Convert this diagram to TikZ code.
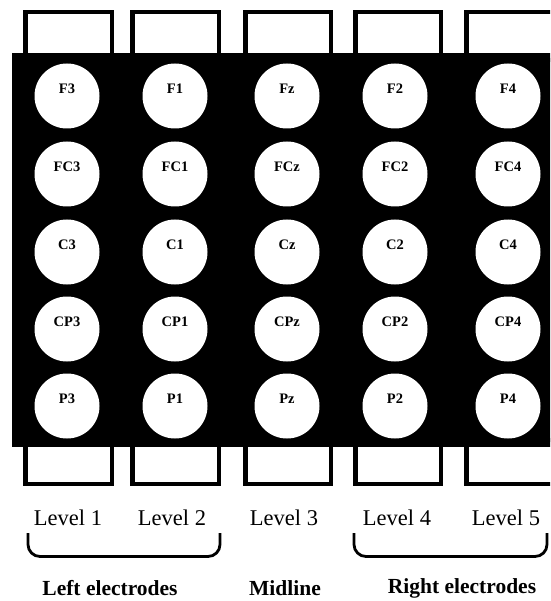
\documentclass[tikz,border=0pt]{standalone}
\usepackage{fontspec}
\setmainfont{Liberation Serif}
\begin{document}
\begin{tikzpicture}[x=1pt,y=-1pt,
  slot/.style={draw=black,line width=4.5pt,fill=white},
  elec/.style={circle,fill=white,minimum size=65pt,inner sep=0pt},
  elab/.style={font=\fontsize{14.5}{14.5}\selectfont\bfseries,inner sep=0pt},
  lvl/.style={font=\fontsize{22.5}{22.5}\selectfont,inner sep=0pt},
  grp/.style={font=\fontsize{21.5}{21.5}\selectfont\bfseries,inner sep=0pt},
  brace/.style={draw=black,line width=2.8pt,rounded corners=12pt}]
\useasboundingbox (0,0) rectangle (550,601);
\begin{scope}
\clip (0,0) rectangle (550,601);
% slots
\foreach \a/\b in {23/114,130/221,243/333,353/443,464/560}{
  \draw[slot] (\a+2.25,12.25) rectangle (\b-2.25,60);
  \draw[slot] (\a+2.25,440) rectangle (\b-2.25,483.75);
}
% black board
\fill[black] (12,53) rectangle (552,447);
\end{scope}
% electrodes
\foreach \lab [count=\i] in {F3,F1,Fz,F2,F4}{
  \pgfmathsetmacro{\xx}{{67,175,287,395,508}[\i-1]}
  \node[elec] (r1c\i) at (\xx,96) {};
  \node[elab] at ([yshift=7pt]r1c\i.center) {\lab};
}
\foreach \lab [count=\i] in {FC3,FC1,FCz,FC2,FC4}{
  \pgfmathsetmacro{\xx}{{67,175,287,395,508}[\i-1]}
  \node[elec] (r2c\i) at (\xx,174) {};
  \node[elab] at ([yshift=7pt]r2c\i.center) {\lab};
}
\foreach \lab [count=\i] in {C3,C1,Cz,C2,C4}{
  \pgfmathsetmacro{\xx}{{67,175,287,395,508}[\i-1]}
  \node[elec] (r3c\i) at (\xx,252) {};
  \node[elab] at ([yshift=7pt]r3c\i.center) {\lab};
}
\foreach \lab [count=\i] in {CP3,CP1,CPz,CP2,CP4}{
  \pgfmathsetmacro{\xx}{{67,175,287,395,508}[\i-1]}
  \node[elec] (r4c\i) at (\xx,329) {};
  \node[elab] at ([yshift=7pt]r4c\i.center) {\lab};
}
\foreach \lab [count=\i] in {P3,P1,Pz,P2,P4}{
  \pgfmathsetmacro{\xx}{{67,175,287,395,508}[\i-1]}
  \node[elec] (r5c\i) at (\xx,406) {};
  \node[elab] at ([yshift=7pt]r5c\i.center) {\lab};
}
% level labels
\node[lvl] (l1) at (68,518) {Level 1};
\node[lvl] (l2) at (172,518) {Level 2};
\node[lvl] (l3) at (284,518) {Level 3};
\node[lvl] (l4) at (397,518) {Level 4};
\node[lvl] (l5) at (506,518) {Level 5};
% braces
\coordinate (bl1) at (28,533);
\coordinate (bl2) at (220,533);
\coordinate (br1) at (354,533);
\coordinate (br2) at (547,533);
\draw[brace] (bl1) -- ++(0,23.5) -| (bl2);
\draw[brace] (br1) -- ++(0,23.5) -| (br2);
% group labels
\node[grp] (gl) at (110,588) {Left electrodes};
\node[grp] (gm) at (285,588) {Midline};
\node[grp] (gr) at (462,588) {Right electrodes};
\end{tikzpicture}
\end{document}
